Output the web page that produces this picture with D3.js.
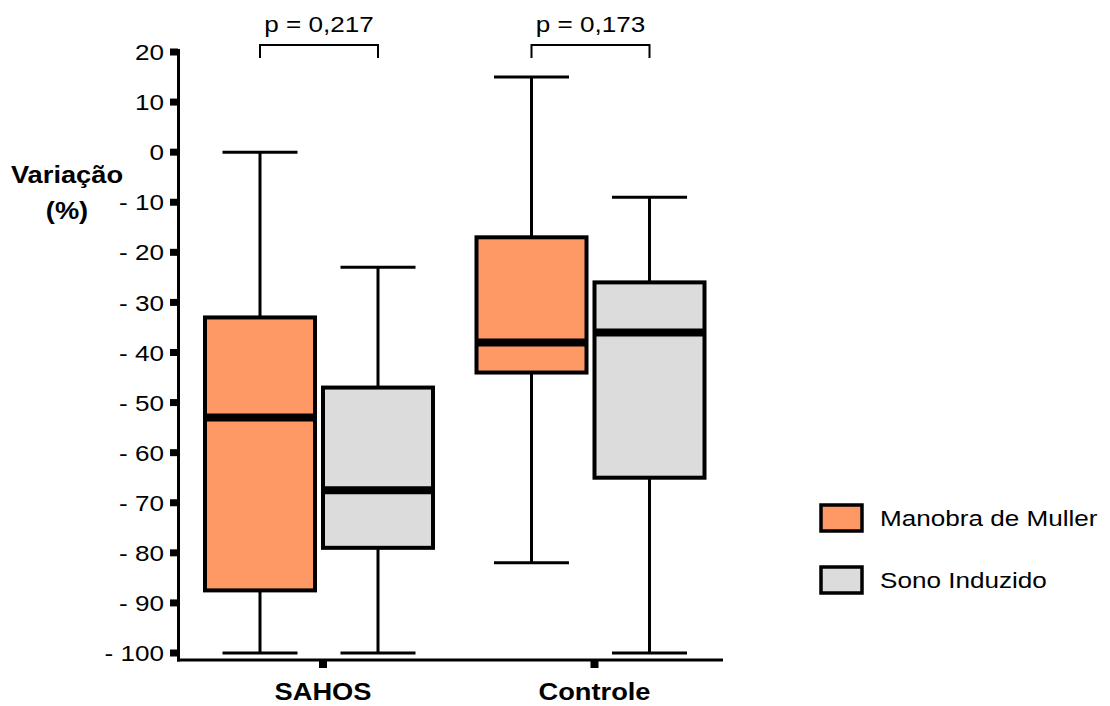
<!DOCTYPE html>
<meta charset="utf-8">
<style>
  body { margin: 0; background: #fff; }
  text { font-family: "Liberation Sans", Arial, sans-serif; fill: #000; }
  .tick_lbl { font-size: 22.5px; }
  .grp_lbl { font-size: 23.5px; font-weight: bold; }
</style>
<svg width="1110" height="706"></svg>
<script src="https://cdn.jsdelivr.net/npm/d3@7"></script>
<script>
// data
var groups = ["SAHOS", "Controle"];
var series = ["Manobra de Muller", "Sono Induzido"];
var colors = ["#fe9966", "#dcdcdc"];
// [min, q1, median, q3, max] per group, per series
var manobra = [[-100, -87.5, -53, -33, 0], [-82, -44, -38, -17, 15]];
var sono = [[-100, -79, -67.5, -47, -23], [-100, -65, -36, -26, -9]];
var pvalues = ["p = 0,217", "p = 0,173"];
var yTicks = [20, 10, 0, -10, -20, -30, -40, -50, -60, -70, -80, -90, -100];

var svg = d3.select("svg");
var sx = 1.16; // text in the picture is a bit wider than tall

function place(px, py) { return "translate(" + px + "," + py + ") scale(" + sx + ",1)"; }

var y = d3.scaleLinear().domain([-100, 20]).range([653, 52]);
var x = d3.scalePoint().domain(groups).range([319, 590.5]);
var off = d3.scalePoint().domain(series).range([-59, 59]);
var boxW = 110, capW = 75;

// y axis
svg.append("line").attr("x1", 178.5).attr("x2", 178.5).attr("y1", 49).attr("y2", 661.5)
  .attr("stroke", "#000").attr("stroke-width", 3);
svg.selectAll("rect.ytick").data(yTicks).enter().append("rect")
  .attr("class", "ytick").attr("x", 170).attr("width", 8)
  .attr("y", function(d) { return y(d) - 3.5; }).attr("height", 7).attr("fill", "#000");
svg.selectAll("text.tick_lbl").data(yTicks).enter().append("text")
  .attr("class", "tick_lbl").attr("transform", function(d) { return place(164, y(d)); })
  .attr("dy", "0.36em").attr("text-anchor", "end")
  .text(function(d) { return d < 0 ? "- " + Math.abs(d) : d; });

svg.append("text").attr("class", "grp_lbl").attr("transform", place(67, 183))
  .attr("text-anchor", "middle").text("Variação");
svg.append("text").attr("class", "grp_lbl").attr("transform", place(67, 219))
  .attr("text-anchor", "middle").text("(%)");

// x axis
svg.append("line").attr("x1", 177).attr("x2", 723).attr("y1", 660).attr("y2", 660)
  .attr("stroke", "#000").attr("stroke-width", 3);
svg.selectAll("rect.xtick").data(groups).enter().append("rect")
  .attr("class", "xtick").attr("x", function(d) { return x(d); }).attr("width", 8)
  .attr("y", 661).attr("height", 7).attr("fill", "#000");
svg.selectAll("text.xlbl").data(groups).enter().append("text")
  .attr("class", "grp_lbl xlbl").attr("transform", function(d) { return place(x(d) + 4, 700); })
  .attr("text-anchor", "middle").text(function(d) { return d; });

// boxes
var boxData = [];
groups.forEach(function(g, gi) {
  boxData.push({ g: g, s: series[0], v: manobra[gi], c: colors[0] });
  boxData.push({ g: g, s: series[1], v: sono[gi], c: colors[1] });
});

var bx = svg.selectAll("g.box").data(boxData).enter().append("g").attr("class", "box")
  .attr("transform", function(d) { return "translate(" + (x(d.g) + off(d.s)) + ",0)"; });

// whiskers
bx.append("line").attr("x1", 0).attr("x2", 0)
  .attr("y1", function(d) { return y(d.v[4]); }).attr("y2", function(d) { return y(d.v[0]); })
  .attr("stroke", "#000").attr("stroke-width", 3);
bx.append("line").attr("x1", -capW / 2).attr("x2", capW / 2)
  .attr("y1", function(d) { return y(d.v[4]); }).attr("y2", function(d) { return y(d.v[4]); })
  .attr("stroke", "#000").attr("stroke-width", 3);
bx.append("line").attr("x1", -capW / 2).attr("x2", capW / 2)
  .attr("y1", function(d) { return y(d.v[0]); }).attr("y2", function(d) { return y(d.v[0]); })
  .attr("stroke", "#000").attr("stroke-width", 3);
bx.append("rect").attr("x", -boxW / 2).attr("width", boxW)
  .attr("y", function(d) { return y(d.v[3]); })
  .attr("height", function(d) { return y(d.v[1]) - y(d.v[3]); })
  .attr("fill", function(d) { return d.c; }).attr("stroke", "#000").attr("stroke-width", 4);
bx.append("line").attr("x1", -boxW / 2).attr("x2", boxW / 2)
  .attr("y1", function(d) { return y(d.v[2]); }).attr("y2", function(d) { return y(d.v[2]); })
  .attr("stroke", "#000").attr("stroke-width", 8);

// p-value brackets
groups.forEach(function(g, gi) {
  var x1 = x(g) + off(series[0]), x2 = x(g) + off(series[1]);
  svg.append("path")
    .attr("d", "M" + x1 + ",58V45H" + x2 + "V58")
    .attr("fill", "none").attr("stroke", "#000").attr("stroke-width", 2);
  svg.append("text").attr("class", "tick_lbl").attr("transform", place((x1 + x2) / 2, 32))
    .attr("text-anchor", "middle").text(pvalues[gi]);
});

// legend
var lg = svg.selectAll("g.leg").data(series).enter().append("g").attr("class", "leg")
  .attr("transform", function(d, i) { return "translate(821," + (505 + i * 62) + ")"; });
lg.append("rect").attr("width", 41).attr("height", 26)
  .attr("fill", function(d, i) { return colors[i]; }).attr("stroke", "#000").attr("stroke-width", 3.5);
lg.append("text").attr("class", "tick_lbl").attr("transform", "translate(59,21) scale(" + sx + ",1)")
  .text(function(d) { return d; });
</script>
